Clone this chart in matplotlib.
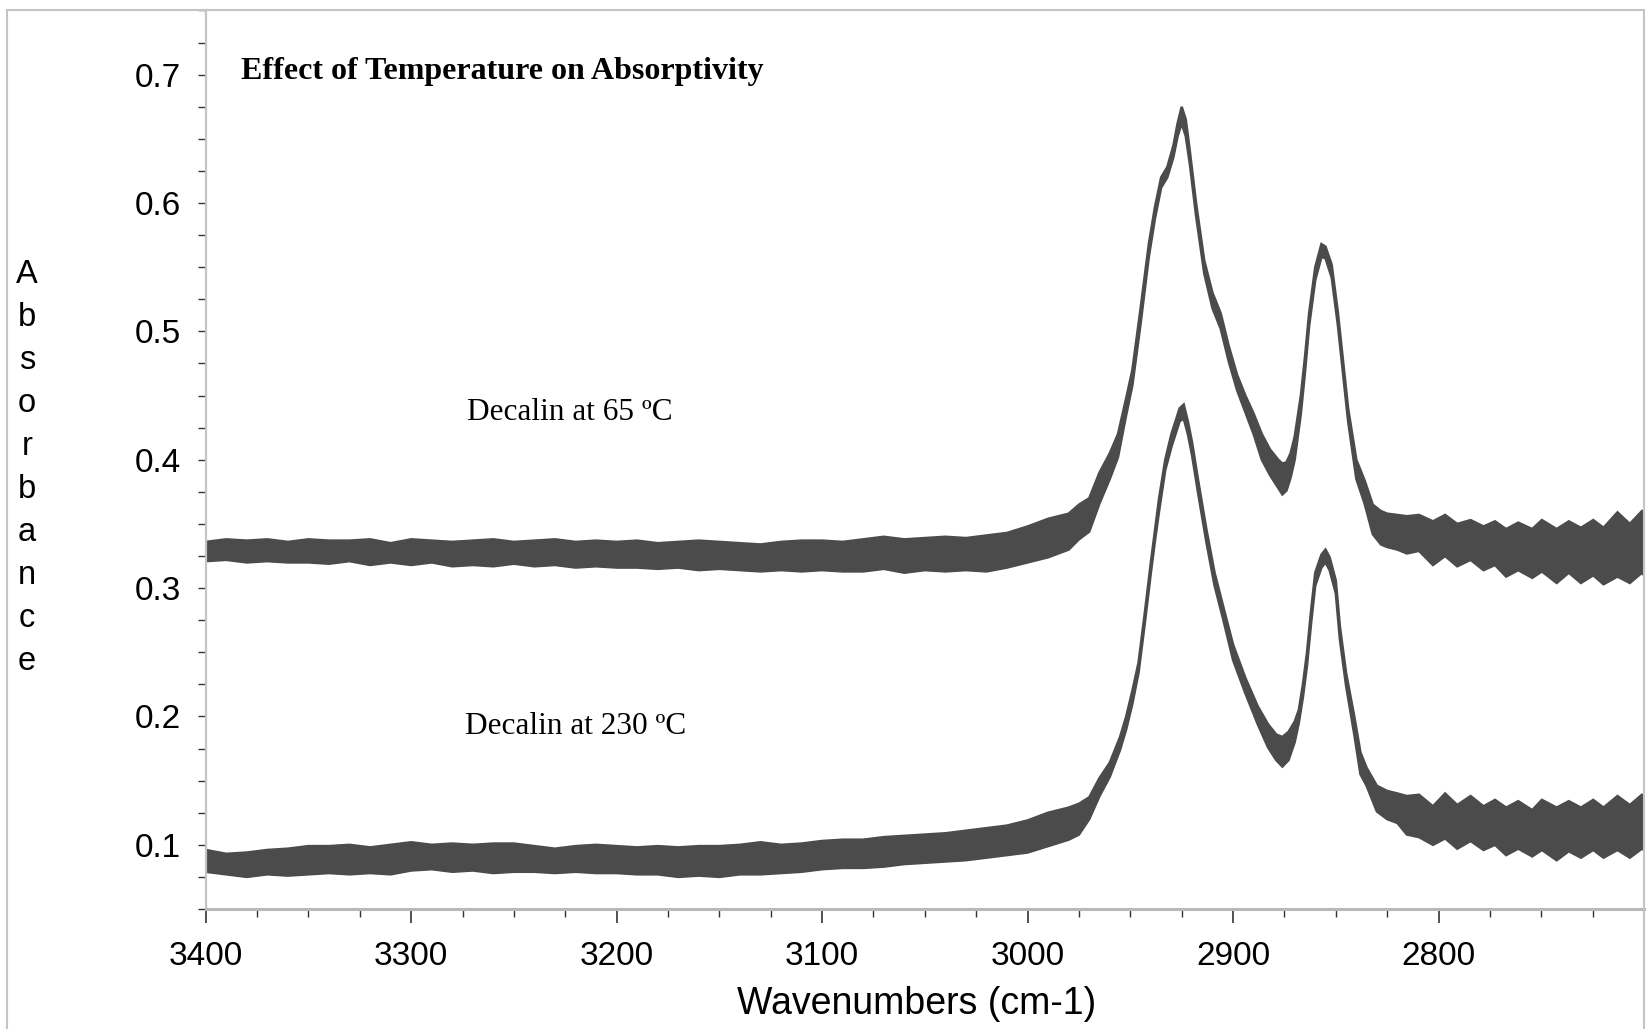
import matplotlib
matplotlib.use("Agg")
import matplotlib.pyplot as plt
from matplotlib.patches import Rectangle
from matplotlib.ticker import MultipleLocator, FixedLocator

# ---------------- data ----------------
# Decalin at 65 C : wavenumber, upper / lower edge of the noisy band
wn_65 = [3400, 3390, 3380, 3370, 3360, 3350, 3340, 3330, 3320, 3310, 3300, 3290, 3280, 3270,
         3260, 3250, 3240, 3230, 3220, 3210, 3200, 3190, 3180, 3170, 3160, 3150, 3140, 3130,
         3120, 3110, 3100, 3090, 3080, 3070, 3060, 3050, 3040, 3030, 3020, 3010, 3000, 2990,
         2980, 2975, 2970, 2965, 2960, 2956, 2952, 2949, 2945, 2941, 2938, 2935, 2932, 2929,
         2927, 2925, 2923, 2921, 2918, 2914, 2910, 2906, 2902, 2898, 2894, 2890, 2886, 2882,
         2878, 2876, 2874, 2872, 2870, 2867, 2865, 2863, 2860, 2857, 2855, 2852, 2849, 2846,
         2844, 2840, 2836, 2832, 2828, 2825, 2820, 2815.4, 2809.5, 2802.7, 2796.8, 2790.9,
         2784.4, 2778.1, 2772.5, 2767.1, 2761.2, 2754.4, 2749.7, 2742.5, 2736.6, 2730.7,
         2724.7, 2719.7, 2712.9, 2706.9, 2701, 2700]
up_65 = [0.336, 0.338, 0.337, 0.338, 0.336, 0.338, 0.337, 0.337, 0.338, 0.335, 0.338, 0.337, 0.336, 0.337,
         0.338, 0.336, 0.337, 0.338, 0.336, 0.337, 0.336, 0.337, 0.335, 0.336, 0.337, 0.336, 0.335, 0.334,
         0.336, 0.337, 0.337, 0.336, 0.338, 0.340, 0.338, 0.339, 0.340, 0.339, 0.341, 0.343, 0.348, 0.354,
         0.358, 0.365, 0.370, 0.390, 0.405, 0.420, 0.448, 0.470, 0.518, 0.568, 0.597, 0.620, 0.628, 0.645,
         0.662, 0.675, 0.665, 0.640, 0.600, 0.555, 0.530, 0.514, 0.488, 0.466, 0.450, 0.436, 0.420, 0.408,
         0.400, 0.397, 0.398, 0.405, 0.418, 0.450, 0.480, 0.514, 0.550, 0.568, 0.566, 0.552, 0.515, 0.470,
         0.440, 0.400, 0.384, 0.365, 0.360, 0.358, 0.357, 0.356, 0.357, 0.352, 0.357, 0.350,
         0.353, 0.348, 0.352, 0.346, 0.351, 0.346, 0.353, 0.346, 0.352, 0.347,
         0.353, 0.347, 0.359, 0.350, 0.360, 0.358]
lo_65 = [0.321, 0.322, 0.320, 0.321, 0.320, 0.320, 0.319, 0.321, 0.318, 0.320, 0.318, 0.320, 0.317, 0.318,
         0.317, 0.319, 0.317, 0.318, 0.316, 0.317, 0.316, 0.316, 0.315, 0.316, 0.314, 0.315, 0.314, 0.313,
         0.314, 0.313, 0.314, 0.313, 0.313, 0.315, 0.312, 0.314, 0.313, 0.314, 0.313, 0.316, 0.320, 0.324,
         0.330, 0.338, 0.344, 0.366, 0.385, 0.402, 0.435, 0.458, 0.506, 0.558, 0.588, 0.612, 0.620, 0.636,
         0.652, 0.662, 0.652, 0.630, 0.590, 0.545, 0.518, 0.502, 0.476, 0.454, 0.437, 0.420, 0.400, 0.388,
         0.378, 0.373, 0.376, 0.386, 0.400, 0.436, 0.468, 0.504, 0.540, 0.558, 0.557, 0.542, 0.505, 0.460,
         0.430, 0.385, 0.366, 0.342, 0.334, 0.332, 0.330, 0.327, 0.329, 0.318, 0.325, 0.317,
         0.322, 0.314, 0.318, 0.309, 0.314, 0.308, 0.313, 0.304, 0.312, 0.304,
         0.310, 0.303, 0.309, 0.304, 0.312, 0.310]

# Decalin at 230 C
wn_230 = [3400, 3390, 3380, 3370, 3360, 3350, 3340, 3330, 3320, 3310, 3300, 3290, 3280, 3270,
          3260, 3250, 3240, 3230, 3220, 3210, 3200, 3190, 3180, 3170, 3160, 3150, 3140, 3130,
          3120, 3110, 3100, 3090, 3080, 3070, 3060, 3050, 3040, 3030, 3020, 3010, 3000, 2990,
          2980, 2975, 2970, 2965, 2960, 2955, 2952, 2949, 2946, 2943, 2940, 2938, 2936, 2933,
          2930, 2928, 2926, 2924, 2922, 2920, 2917, 2913, 2909, 2905, 2900, 2894, 2888, 2883,
          2879, 2876, 2873, 2870, 2868, 2866, 2864, 2862, 2860, 2857, 2855, 2853, 2850, 2848,
          2845, 2841, 2838, 2835, 2830, 2825, 2820, 2815.4, 2809.5, 2802.7, 2796.8, 2790.9,
          2784.4, 2778.1, 2772.5, 2767.1, 2761.2, 2754.4, 2749.7, 2742.5, 2736.6, 2730.7,
          2724.7, 2719.7, 2712.9, 2706.9, 2701, 2700]
up_230 = [0.096, 0.093, 0.094, 0.096, 0.097, 0.099, 0.099, 0.100, 0.098, 0.100, 0.102, 0.100, 0.101, 0.100,
          0.101, 0.101, 0.099, 0.097, 0.099, 0.100, 0.099, 0.098, 0.099, 0.098, 0.099, 0.099, 0.100, 0.102,
          0.100, 0.101, 0.103, 0.104, 0.104, 0.106, 0.107, 0.108, 0.109, 0.111, 0.113, 0.115, 0.119, 0.125,
          0.129, 0.132, 0.137, 0.152, 0.164, 0.184, 0.200, 0.220, 0.242, 0.280, 0.320, 0.345, 0.370, 0.400,
          0.420, 0.430, 0.440, 0.443, 0.430, 0.414, 0.384, 0.346, 0.312, 0.287, 0.256, 0.230, 0.208, 0.194,
          0.186, 0.184, 0.188, 0.196, 0.205, 0.225, 0.250, 0.283, 0.312, 0.326, 0.330, 0.324, 0.306, 0.270,
          0.234, 0.200, 0.172, 0.160, 0.146, 0.142, 0.140, 0.138, 0.139, 0.130, 0.140, 0.131,
          0.138, 0.130, 0.135, 0.129, 0.134, 0.127, 0.135, 0.129, 0.134, 0.129,
          0.135, 0.129, 0.138, 0.131, 0.139, 0.138]
lo_230 = [0.079, 0.077, 0.075, 0.077, 0.076, 0.077, 0.078, 0.077, 0.078, 0.077, 0.080, 0.081, 0.079, 0.080,
          0.078, 0.079, 0.079, 0.078, 0.079, 0.078, 0.078, 0.077, 0.077, 0.075, 0.076, 0.075, 0.077, 0.077,
          0.078, 0.079, 0.081, 0.082, 0.082, 0.083, 0.085, 0.086, 0.087, 0.088, 0.090, 0.092, 0.094, 0.099,
          0.104, 0.108, 0.120, 0.138, 0.153, 0.174, 0.190, 0.210, 0.234, 0.272, 0.312, 0.337, 0.360, 0.392,
          0.410, 0.420, 0.430, 0.432, 0.420, 0.404, 0.374, 0.336, 0.302, 0.277, 0.244, 0.218, 0.194, 0.176,
          0.166, 0.161, 0.166, 0.180, 0.195, 0.215, 0.240, 0.273, 0.302, 0.316, 0.320, 0.314, 0.296, 0.260,
          0.224, 0.186, 0.155, 0.146, 0.126, 0.120, 0.117, 0.108, 0.106, 0.100, 0.105, 0.097,
          0.103, 0.096, 0.100, 0.092, 0.097, 0.091, 0.096, 0.088, 0.095, 0.090,
          0.096, 0.090, 0.096, 0.090, 0.097, 0.096]

x_major = [3400, 3300, 3200, 3100, 3000, 2900, 2800, 2700]
x_labels = ["3400", "3300", "3200", "3100", "3000", "2900", "2800", ""]
y_major = [0.1, 0.2, 0.3, 0.4, 0.5, 0.6, 0.7]
y_labels = ["0.1", "0.2", "0.3", "0.4", "0.5", "0.6", "0.7"]

title_text = "Effect of Temperature on Absorptivity"
label_65 = "Decalin at 65 ºC"
label_230 = "Decalin at 230 ºC"

# ---------------- figure ----------------
W, H = 1646, 1029
fig = plt.figure(figsize=(W / 100, H / 100), dpi=100)
ax = fig.add_axes([205.7 / W, 1 - 909 / H, (1644 - 205.7) / W, (909 - 10.5) / H])

line_color = "#4b4b4b"
for wn, up, lo in [(wn_65, up_65, lo_65), (wn_230, up_230, lo_230)]:
    ax.fill_between(wn, lo, up, color=line_color, linewidth=0)
    ax.plot(wn, up, color=line_color, lw=1.8, solid_joinstyle="miter")
    ax.plot(wn, lo, color=line_color, lw=1.8, solid_joinstyle="miter")

ax.set_xlim(3400, 2700)
ax.set_ylim(0.05, 0.75)

ax.xaxis.set_major_locator(FixedLocator(x_major))
ax.set_xticklabels(x_labels)
ax.xaxis.set_minor_locator(MultipleLocator(25))
ax.yaxis.set_major_locator(FixedLocator(y_major))
ax.set_yticklabels(y_labels)
ax.yaxis.set_minor_locator(MultipleLocator(0.025))

sans = ["Liberation Sans", "DejaVu Sans"]
serif = ["Liberation Serif", "DejaVu Serif"]

for lab in ax.get_xticklabels() + ax.get_yticklabels():
    lab.set_fontfamily(sans)
    lab.set_fontsize(24)

ax.tick_params(axis="x", which="major", direction="out", length=10, width=1.2,
               color="#333333", pad=13)
ax.tick_params(axis="x", which="minor", direction="out", length=5.5, width=1.0, color="#333333")
ax.tick_params(axis="y", which="both", direction="out", length=5.8, width=1.0,
               color="#333333", pad=12)

for s in ["top", "right"]:
    ax.spines[s].set_visible(False)
ax.spines["left"].set_color("#c4c4c4")
ax.spines["left"].set_linewidth(1.6)
ax.spines["bottom"].set_color("#b8b8b8")
ax.spines["bottom"].set_linewidth(2.2)

# outer frame
fig.patches.append(Rectangle((7 / W, -0.02), (1644 - 7) / W, 1.02 - 10.5 / H,
                             transform=fig.transFigure, fill=False,
                             edgecolor="#c4c4c4", linewidth=1.5))

fig.text(241 / W, 1 - 72 / H, title_text, family=serif, weight="bold", size=23,
         ha="left", va="center")
fig.text(467 / W, 1 - 413 / H, label_65, family=serif, size=22.5, ha="left", va="center")
fig.text(465 / W, 1 - 726 / H, label_230, family=serif, size=22.5, ha="left", va="center")

fig.text(917 / W, 1 - 1004 / H, "Wavenumbers (cm-1)", family=sans, size=27,
         ha="center", va="center")
fig.text(27 / W, 1 - 468 / H, "\n".join("Absorbance"), family=sans, size=23.5,
         ha="center", va="center", linespacing=1.5)

fig.savefig("out.png", dpi=100)
